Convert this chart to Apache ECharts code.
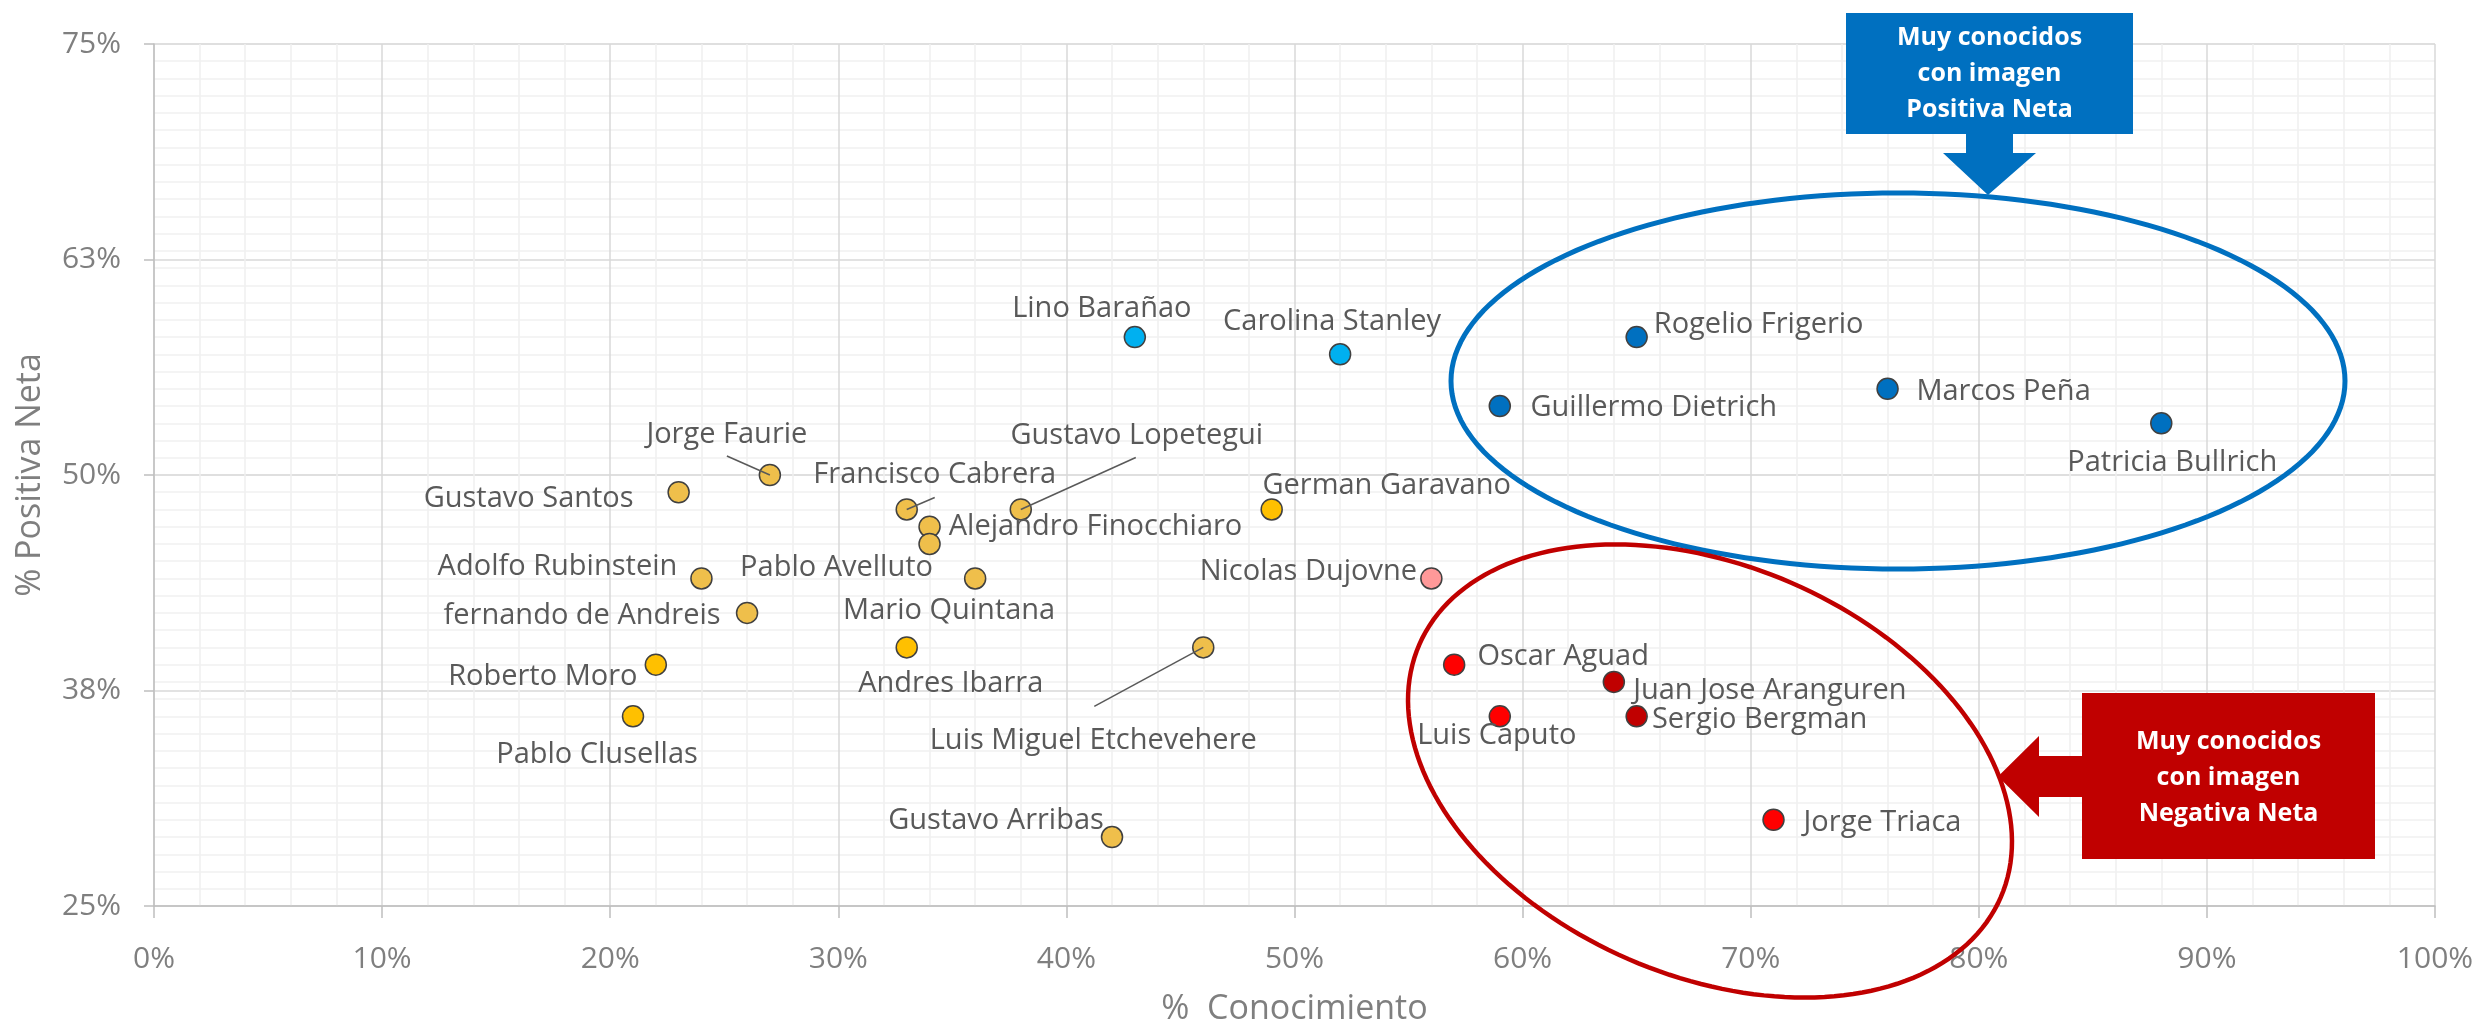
<!DOCTYPE html>
<html>
<head>
<meta charset="utf-8">
<script src="https://cdn.jsdelivr.net/npm/echarts@6/dist/echarts.min.js"></script>
<style>
  html, body { margin: 0; padding: 0; background: #fff; }
  #myCharts { width: 2478px; height: 1031px; }
</style>
</head>
<body>
<div id="myCharts"></div>
<script>
// datos (% conocimiento vs % imagen positiva neta)
const names = ['Gustavo Santos', 'Jorge Faurie', 'Adolfo Rubinstein', 'fernando de Andreis', 'Roberto Moro',
  'Pablo Clusellas', 'Francisco Cabrera', 'Gustavo Lopetegui', 'Alejandro Finocchiaro', 'Pablo Avelluto',
  'Mario Quintana', 'Andres Ibarra', 'Luis Miguel Etchevehere', 'German Garavano', 'Gustavo Arribas',
  'Nicolas Dujovne', 'Lino Barañao', 'Carolina Stanley', 'Rogelio Frigerio', 'Guillermo Dietrich',
  'Marcos Peña', 'Patricia Bullrich', 'Oscar Aguad', 'Juan Jose Aranguren', 'Luis Caputo',
  'Sergio Bergman', 'Jorge Triaca'];
const conocimiento = [23, 27, 24, 26, 22, 21, 33, 38, 34, 34, 36, 33, 46, 49, 42, 56, 43, 52, 65, 59, 76, 88, 57, 64, 59, 65, 71];
const positivaNeta = [49, 50, 44, 42, 39, 36, 48, 48, 47, 46, 44, 40, 40, 48, 29, 44, 58, 57, 58, 54, 55, 53, 39, 38, 36, 36, 30];
const grupo = ['oro', 'oro', 'oro', 'oro', 'ambar', 'ambar', 'oro', 'oro', 'oro', 'oro', 'oro', 'ambar', 'oro', 'ambar', 'oro',
  'rosa', 'celeste', 'celeste', 'azul', 'azul', 'azul', 'azul', 'rojo', 'granate', 'rojo', 'granate', 'rojo'];
const xTicks = [0, 10, 20, 30, 40, 50, 60, 70, 80, 90, 100];
const yTicks = [25, 37.5, 50, 62.5, 75];

const colores = {
  oro: '#EFBF4B', ambar: '#FFC000', rosa: '#FF9999', celeste: '#00B0F0',
  azul: '#0070C0', rojo: '#FF0000', granate: '#C00000'
};

// desplazamiento de cada etiqueta (centro del texto respecto al punto, px)
const labelPos = {
  'Gustavo Santos': [-150, 6], 'Jorge Faurie': [-43, -40], 'Adolfo Rubinstein': [-144, -12],
  'fernando de Andreis': [-165, 3], 'Roberto Moro': [-113, 12], 'Pablo Clusellas': [-36, 38],
  'Francisco Cabrera': [28, -35], 'Gustavo Lopetegui': [116, -74], 'Alejandro Finocchiaro': [166, 0],
  'Pablo Avelluto': [-93, 24], 'Mario Quintana': [-26, 32], 'Andres Ibarra': [44, 36],
  'Luis Miguel Etchevehere': [-110, 93], 'German Garavano': [115, -24], 'Gustavo Arribas': [-116, -16],
  'Nicolas Dujovne': [-123, -7], 'Lino Barañao': [-33, -28], 'Carolina Stanley': [-8, -33],
  'Rogelio Frigerio': [122, -12], 'Guillermo Dietrich': [154, 2], 'Marcos Peña': [116, 3],
  'Patricia Bullrich': [11, 39], 'Oscar Aguad': [109, -8], 'Juan Jose Aranguren': [156, 9],
  'Luis Caputo': [-3, 19], 'Sergio Bergman': [123, 3], 'Jorge Triaca': [109, 3]
};
// lineas guia (extremo respecto al punto, px)
const guias = {
  'Jorge Faurie': [-43, -19], 'Francisco Cabrera': [28, -12],
  'Gustavo Lopetegui': [115, -52], 'Luis Miguel Etchevehere': [-109, 59]
};

const font = '"Open Sans", "Noto Sans", sans-serif';
const axisGray = '#7F7F7F';

var myChart = echarts.init(document.getElementById('myCharts'));

let data = names.map((n, i) => ({
  name: n,
  value: [conocimiento[i], positivaNeta[i]],
  itemStyle: { color: colores[grupo[i]] },
  label: { offset: labelPos[n] }
}));

let option = {
  animation: false,
  backgroundColor: '#fff',
  grid: { left: 154, right: 43, top: 44, bottom: 122, containLabel: false },
  xAxis: {
    type: 'value',
    min: xTicks[0], max: xTicks[xTicks.length - 1], interval: xTicks[1] - xTicks[0],
    name: '%  Conocimiento', nameLocation: 'middle', nameGap: 103,
    nameTextStyle: { fontSize: 34, color: axisGray, fontFamily: font, verticalAlign: 'middle' },
    axisLine: { show: true, lineStyle: { color: '#BFBFBF', width: 1.5 } },
    axisTick: { show: true, length: 12, lineStyle: { color: '#BFBFBF', width: 1.5 } },
    axisLabel: { formatter: v => v + '%', fontSize: 30, color: axisGray, fontFamily: font, margin: 38 },
    splitLine: { show: true, lineStyle: { color: '#D9D9D9', width: 1.5 } },
    minorTick: { show: false, splitNumber: 5 },
    minorSplitLine: { show: true, lineStyle: { color: '#F0F0F0', width: 1.5 } },
    z: 2
  },
  yAxis: [{
    type: 'value',
    min: yTicks[0], max: yTicks[yTicks.length - 1], interval: yTicks[1] - yTicks[0],
    name: '% Positiva Neta', nameLocation: 'middle', nameGap: 124,
    nameTextStyle: { fontSize: 34, color: axisGray, fontFamily: font, verticalAlign: 'middle' },
    axisLine: { show: true, lineStyle: { color: '#BFBFBF', width: 1.5 } },
    axisTick: { show: true, length: 10, lineStyle: { color: '#BFBFBF', width: 1.5 } },
    axisLabel: { formatter: v => Math.round(v) + '%', fontSize: 30, color: axisGray, fontFamily: font, margin: 33 },
    splitLine: { show: true, lineStyle: { color: '#D9D9D9', width: 1.5 } },
    z: 2
  }, {
    // lineas secundarias cada 1%
    type: 'value', position: 'left',
    min: yTicks[0], max: yTicks[yTicks.length - 1], interval: 1,
    axisLine: { show: false }, axisTick: { show: false }, axisLabel: { show: false },
    splitLine: { show: true, lineStyle: { color: '#F0F0F0', width: 1.5 } },
    z: 1
  }],
  series: [{
    type: 'scatter',
    yAxisIndex: 0,
    symbol: 'circle',
    symbolSize: 21,
    itemStyle: { borderColor: '#404040', borderWidth: 1.5, opacity: 1 },
    label: {
      show: true, position: 'inside', formatter: '{b}',
      align: 'center', verticalAlign: 'middle',
      fontSize: 29, color: '#595959', fontFamily: font,
      textBorderWidth: 0
    },
    emphasis: { disabled: true },
    data: data,
    z: 3
  }]
};
myChart.setOption(option);

function elipse(cx, cy, a, b, rotDeg) {
  let r = rotDeg * Math.PI / 180, pts = [];
  for (let k = 0; k < 180; k++) {
    let t = k / 180 * Math.PI * 2;
    let x = a * Math.cos(t), y = b * Math.sin(t);
    pts.push([cx + x * Math.cos(r) - y * Math.sin(r), cy + x * Math.sin(r) + y * Math.cos(r)]);
  }
  return pts;
}

let graphics = [];
Object.keys(guias).forEach(n => {
  let i = names.indexOf(n);
  let p = myChart.convertToPixel({ seriesIndex: 0 }, [conocimiento[i], positivaNeta[i]]);
  graphics.push({
    type: 'line', z: 10,
    shape: { x1: p[0], y1: p[1], x2: p[0] + guias[n][0], y2: p[1] + guias[n][1] },
    style: { stroke: '#595959', lineWidth: 1.5 }
  });
});

graphics.push({
  type: 'polygon', z: 20,
  shape: { points: elipse(1898, 381, 447, 188, 0) },
  style: { fill: 'none', stroke: '#0070C0', lineWidth: 5 }
});
graphics.push({
  type: 'polygon', z: 20,
  shape: { points: elipse(1710, 771, 317, 205, 23.5) },
  style: { fill: 'none', stroke: '#C00000', lineWidth: 4.5 }
});

// recuadro azul con flecha hacia abajo
graphics.push({
  type: 'polygon', z: 20,
  shape: { points: [[1846, 13], [2133, 13], [2133, 134], [2013, 134], [2013, 153], [2036, 153], [1988, 195],
    [1943, 153], [1966, 153], [1966, 134], [1846, 134]] },
  style: { fill: '#0070C0' }
});
graphics.push({
  type: 'text', z: 21,
  style: {
    text: 'Muy conocidos\ncon imagen\nPositiva Neta', x: 1989.5, y: 74,
    align: 'center', verticalAlign: 'middle', fill: '#fff',
    fontSize: 25, fontWeight: 'bold', fontFamily: font, lineHeight: 36
  }
});

// recuadro rojo con flecha hacia la izquierda
graphics.push({
  type: 'polygon', z: 20,
  shape: { points: [[2082, 693], [2375, 693], [2375, 859], [2082, 859], [2082, 797], [2039, 797], [2039, 817],
    [1998, 776.5], [2039, 736], [2039, 756], [2082, 756]] },
  style: { fill: '#C00000' }
});
graphics.push({
  type: 'text', z: 21,
  style: {
    text: 'Muy conocidos\ncon imagen\nNegativa Neta', x: 2228.5, y: 778,
    align: 'center', verticalAlign: 'middle', fill: '#fff',
    fontSize: 25, fontWeight: 'bold', fontFamily: font, lineHeight: 36
  }
});

myChart.setOption({ graphic: graphics });
</script>
</body>
</html>
